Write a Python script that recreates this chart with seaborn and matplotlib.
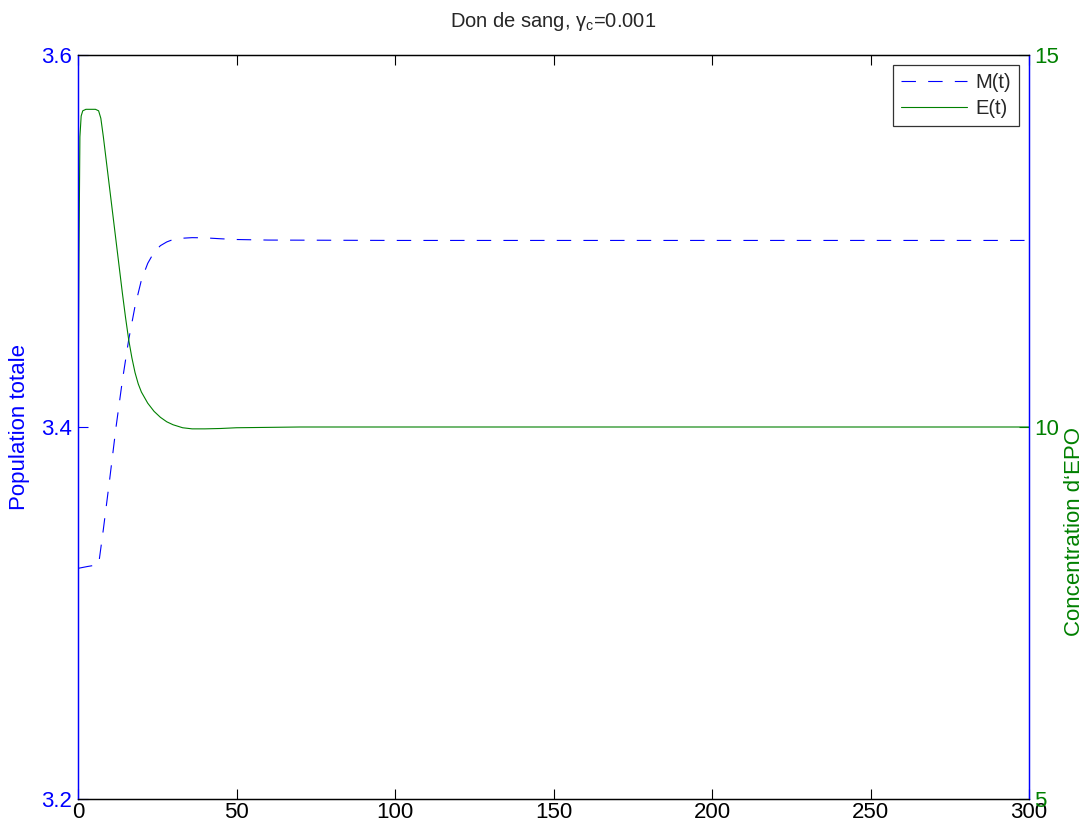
import numpy as np
import pandas as pd
import matplotlib
matplotlib.use("Agg")
import matplotlib.pyplot as plt
import seaborn as sns

# ---- data ----
t_M = [0, 3, 6.5, 8, 10, 12, 14, 16, 18, 20, 22, 24, 26, 28, 30, 33, 36, 40, 45,
       50, 60, 80, 100, 150, 200, 300]
M_vals = [3.324, 3.325, 3.326, 3.345, 3.372, 3.400, 3.425, 3.447, 3.465, 3.479,
          3.488, 3.494, 3.4975, 3.4995, 3.5008, 3.5015, 3.5018, 3.5017, 3.5012,
          3.5008, 3.5005, 3.5004, 3.5003, 3.5003, 3.5003, 3.5003]

t_E = [0, 0.3, 0.6, 1.0, 1.5, 2.5, 4, 5.5, 6.5, 7.2, 8, 9, 10, 11, 12, 13, 14, 15,
       16, 17, 18, 19, 20, 22, 24, 26, 28, 30, 33, 36, 40, 45, 50, 60, 70, 100,
       150, 200, 300]
E_vals = [10, 12.3, 13.9, 14.18, 14.25, 14.27, 14.27, 14.27, 14.25, 14.15, 13.9,
          13.55, 13.2, 12.85, 12.5, 12.15, 11.8, 11.47, 11.17, 10.93, 10.73, 10.58,
          10.47, 10.32, 10.21, 10.13, 10.07, 10.03, 9.99, 9.975, 9.975, 9.98, 9.99,
          9.995, 10.0, 10.0, 10.0, 10.0, 10.0]

x_ticks = [0, 50, 100, 150, 200, 250, 300]
left_ticks = [3.2, 3.4, 3.6]
right_ticks = [5, 10, 15]
title = "Don de sang, \u03b3$_{\\mathrm{c}}$=0.001"
left_label = "Population totale"
right_label = "Concentration d\u2018EPO"
legend_labels = ["M(t)", "E(t)"]

dfM = pd.DataFrame({"t": t_M, "M": M_vals})
dfE = pd.DataFrame({"t": t_E, "E": E_vals})

sns.set_style("white")
plt.rcParams["font.family"] = ["Liberation Sans", "DejaVu Sans"]
plt.rcParams["mathtext.fontset"] = "custom"
plt.rcParams["mathtext.rm"] = "Liberation Sans"
plt.rcParams["mathtext.it"] = "Liberation Sans:italic"

BLUE = (0, 0, 1)
GREEN = (0, 0.5, 0)
TICK_FS = 16
TITLE_FS = 14.5
LABEL_FS = 16
LEG_FS = 14.5

fig = plt.figure(figsize=(10.88, 8.31), dpi=100)
ax = fig.add_axes([78 / 1088, 1 - 799 / 831, (1029 - 78) / 1088, (799 - 55) / 831])
ax2 = ax.twinx()

sns.lineplot(data=dfM, x="t", y="M", ax=ax, color=BLUE, linewidth=0.8,
             estimator=None, sort=False)
lm = ax.get_lines()[0]
lm.set_dashes((13, 11))

sns.lineplot(data=dfE, x="t", y="E", ax=ax2, color=GREEN, linewidth=0.8,
             estimator=None, sort=False)
le = ax2.get_lines()[0]

ax.set_xlim(0, 300)
ax.set_ylim(3.2, 3.6)
ax2.set_ylim(5, 15)
ax.set_xticks(x_ticks)
ax.set_xticklabels([str(v) for v in x_ticks], fontsize=TICK_FS)
ax.set_yticks(left_ticks)
ax.set_yticklabels([f"{v:.1f}" for v in left_ticks], fontsize=TICK_FS, color=BLUE)
ax2.set_yticks(right_ticks)
ax2.set_yticklabels([str(v) for v in right_ticks], fontsize=TICK_FS, color=GREEN)

ax.tick_params(axis="x", direction="in", length=7, top=True, bottom=True,
               width=0.8, pad=2, colors="black")
ax.tick_params(axis="y", direction="in", length=7, left=True, right=False,
               colors=BLUE, width=0.8, pad=4)
ax2.tick_params(axis="y", direction="in", length=7, right=True, left=False,
                colors=GREEN, width=0.8, pad=4)
ax2.tick_params(axis="x", top=False, bottom=False)

for a in (ax, ax2):
    for s in a.spines.values():
        s.set_linewidth(0.9)
        s.set_visible(True)
    a.spines["left"].set_color(BLUE)
    a.spines["right"].set_color(BLUE)
    a.spines["top"].set_color("black")
    a.spines["bottom"].set_color("black")

ax.set_xlabel("")
ax.set_ylabel(left_label, color=BLUE, fontsize=LABEL_FS)
ax.yaxis.set_label_coords(-0.05, 0.5)
ax2.set_ylabel(right_label, color=GREEN, fontsize=LABEL_FS)
ax2.yaxis.set_label_coords(1.037, 0.36)
ax.set_title(title, fontsize=TITLE_FS, pad=20)

leg = ax2.legend([lm, le], legend_labels, loc="upper right", fontsize=LEG_FS,
                 frameon=True, fancybox=False, edgecolor="black",
                 borderaxespad=0.5, handlelength=3.3, handletextpad=0.4,
                 labelspacing=0.35, borderpad=0.4)
leg.get_frame().set_linewidth(0.9)

fig.savefig("out.png", dpi=100)
